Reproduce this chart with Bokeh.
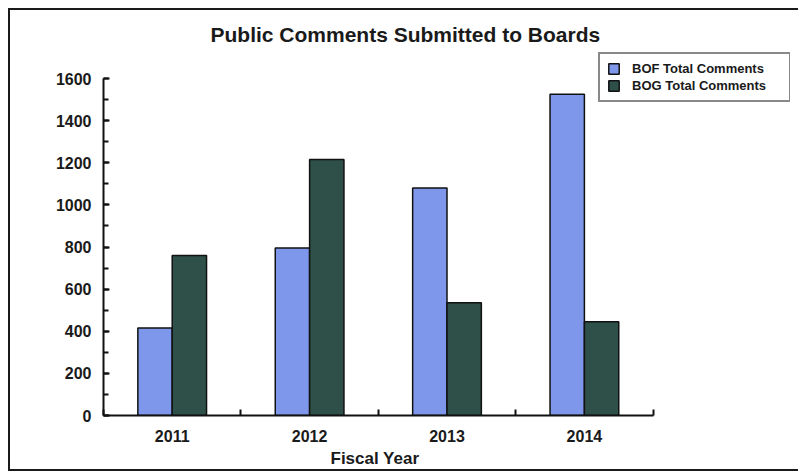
from bokeh.plotting import figure
from bokeh.models import ColumnDataSource, FixedTicker, Legend, LegendItem, Title
from bokeh.transform import dodge
from bokeh.embed import file_html
from bokeh.resources import INLINE

# ---- data ----
years = ["2011", "2012", "2013", "2014"]
bof_comments = [415, 795, 1080, 1525]
bog_comments = [760, 1215, 535, 445]
series_names = ["BOF Total Comments", "BOG Total Comments"]
x_title = "Fiscal Year"
chart_title = "Public Comments Submitted to Boards"
y_ticks = [0, 200, 400, 600, 800, 1000, 1200, 1400, 1600]
y_minor = list(range(0, 1601, 100))
y_max = 1600

bof_color = "#7f97eb"
bog_color = "#2f5048"
ink = "#1a1a1a"
font = "Liberation Sans"

# frame extends past the axes so the legend (outside the axes box) is not clipped
x_extent = len(years) + 1
y_extent = y_max * 365 / 337

x_pos = [i + 0.5 for i in range(len(years))]
src = ColumnDataSource(dict(x=x_pos, year=years, bof=bof_comments, bog=bog_comments))

p = figure(width=798, height=473, x_range=(0, x_extent), y_range=(0, y_extent),
           output_backend="svg", toolbar_location=None,
           min_border_left=103, min_border_right=8, min_border_top=50, min_border_bottom=58)
# outer page frame (top, left and bottom rules of the scanned box)
frame_bg = ", ".join([
    f"linear-gradient({ink},{ink}) 8px 8px / 790px 2px no-repeat",
    f"linear-gradient({ink},{ink}) 8px 8px / 2px 463px no-repeat",
    f"linear-gradient({ink},{ink}) 8px 469px / 790px 2px no-repeat",
    "#ffffff",
])
p.styles = {"background": frame_bg}
p.border_fill_color = None
p.outline_line_color = None
p.xgrid.visible = False
p.ygrid.visible = False
p.background_fill_color = "white"

r1 = p.vbar(x=dodge("x", -0.125), top="bof", width=0.25, source=src,
            fill_color=bof_color, line_color="#111111", line_width=1.5)
r2 = p.vbar(x=dodge("x", 0.125), top="bog", width=0.25, source=src,
            fill_color=bog_color, line_color="#111111", line_width=1.5)

p.title = Title(text=chart_title, align="left",
                text_font=font, text_font_size="21px", text_font_style="bold",
                offset=107, standoff=9, text_color=ink)

# x axis
xa = p.xaxis[0]
xa.bounds = (0, len(years))
xa.ticker = FixedTicker(ticks=x_pos, minor_ticks=list(range(len(years) + 1)))
xa.major_label_overrides = {x: y for x, y in zip(x_pos, years)}
xa.major_tick_line_color = None
xa.minor_tick_in = 6
xa.minor_tick_out = 0
xa.minor_tick_line_width = 2
xa.minor_tick_line_color = "#111111"
xa.axis_line_width = 2
xa.axis_line_color = "#111111"
xa.major_label_standoff = 8
xa.major_label_text_font = font
xa.major_label_text_font_size = "16px"
xa.major_label_text_font_style = "bold"
xa.major_label_text_color = ink

# x-axis title, centred under the axes (not the wider frame)
xlab = Title(text=x_title, align="left", offset=227, standoff=5,
             text_font=font, text_font_size="17px", text_font_style="bold",
             text_color=ink)
p.add_layout(xlab, "below")

# y axis
ya = p.yaxis[0]
ya.bounds = (0, y_max)
ya.ticker = FixedTicker(ticks=y_ticks, minor_ticks=y_minor)
ya.major_tick_in = 6
ya.major_tick_out = 0
ya.minor_tick_in = 5
ya.minor_tick_out = 0
ya.major_tick_line_width = 2
ya.minor_tick_line_width = 2
ya.major_tick_line_color = "#111111"
ya.minor_tick_line_color = "#111111"
ya.axis_line_width = 2
ya.axis_line_color = "#111111"
ya.major_label_standoff = 12
ya.major_label_text_font = font
ya.major_label_text_font_size = "16px"
ya.major_label_text_font_style = "bold"
ya.major_label_text_color = ink

legend = Legend(items=[LegendItem(label=series_names[0], renderers=[r1]),
                       LegendItem(label=series_names[1], renderers=[r2])],
                location=(495, 313))
legend.label_text_font = font
legend.label_text_font_size = "13px"
legend.label_text_font_style = "bold"
legend.label_text_color = ink
legend.border_line_color = "#111111"
legend.border_line_width = 2
legend.glyph_width = 13
legend.glyph_height = 13
legend.label_height = 13
legend.label_width = 150
legend.label_standoff = 12
legend.padding = 7
legend.spacing = 2
legend.margin = 0
legend.background_fill_color = "white"
legend.background_fill_alpha = 1.0
p.add_layout(legend)

open("out.html", "w").write(file_html(p, INLINE))
